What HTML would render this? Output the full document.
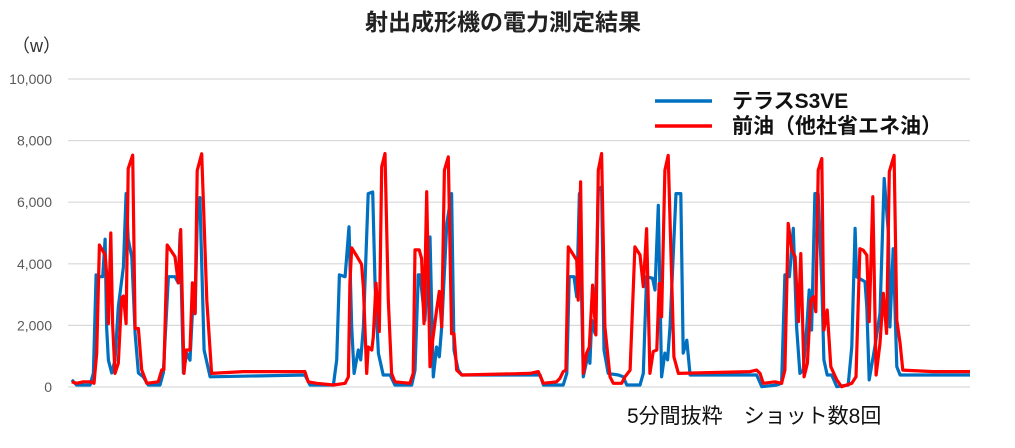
<!DOCTYPE html>
<html><head><meta charset="utf-8">
<style>
body{margin:0;background:#fff;width:1015px;height:448px;overflow:hidden;font-family:"Liberation Sans","Noto Sans CJK JP",sans-serif;}
svg{display:block}
</style></head>
<body>
<svg id="chart" width="1015" height="448" viewBox="0 0 1015 448" xmlns="http://www.w3.org/2000/svg">
<text x="503" y="30" text-anchor="middle" font-size="23" font-weight="bold" fill="#222" font-family="Liberation Sans, Noto Sans CJK JP, sans-serif">射出成形機の電力測定結果</text>
<text x="12" y="52" font-size="18" fill="#333" font-family="Liberation Sans, Noto Sans CJK JP, sans-serif">（w）</text>
<g id="grid"></g>
<g id="yticks"></g>
<g id="series"></g>
<g>
<line x1="655" y1="101" x2="712" y2="101" stroke="#0070C0" stroke-width="3.5"/>
<text x="732" y="108" font-size="21" font-weight="bold" fill="#111" font-family="Liberation Sans, Noto Sans CJK JP, sans-serif">テラスS3VE</text>
<line x1="655" y1="126" x2="712" y2="126" stroke="#FF0000" stroke-width="3.5"/>
<text x="732" y="133" font-size="21" font-weight="bold" fill="#111" font-family="Liberation Sans, Noto Sans CJK JP, sans-serif">前油（他社省エネ油）</text>
</g>
<text x="627" y="423" font-size="21" fill="#111" font-family="Liberation Sans, Noto Sans CJK JP, sans-serif">5分間抜粋　ショット数8回</text>
</svg>
<script>
const yTicks = [0, 2000, 4000, 6000, 8000, 10000];
const yTickLabels = ["0", "2,000", "4,000", "6,000", "8,000", "10,000"];
const blueT = [0.6,2.2,6.7,7.8,8.7,10,10.9,11.7,12.2,12.8,13.9,15,16.1,17.8,18.7,19.4,20.6,21.7,22.8,24.4,26.1,30,31.1,32.8,35,36.1,36.7,37.8,38.9,40,40.9,41.7,42.4,43.3,44.7,46.7,78.3,80,87.8,88.9,89.8,91.7,93,93.9,94.7,96.1,96.9,97.8,99.4,100.9,101.7,102.8,104.4,106.7,108.3,113.9,115,116.1,116.7,118.3,120,121.1,122.2,123.1,123.9,125.6,127.2,128,129.4,130.6,156.7,157.8,164.4,165.6,166.4,168,168.9,169.8,171.1,172.8,173.3,173.9,175,176.1,177.2,178,179.4,182.8,184.4,185.6,190,191.1,192.2,194.2,195,196.1,197.2,198.3,199.2,200,202,203.6,204.4,205.6,206.7,228.9,230.6,235.6,237.2,238.3,239.8,241.1,242.2,243.3,244.4,245.6,246.4,247.2,248.3,249.4,250.6,251.3,252.4,253.9,255.6,259.4,260.6,261.7,262.2,265,265.6,266.4,268.3,270,271.4,272.8,273.3,274.4,275.6,276.7,300];
const blueV = [230,65,65,455,3640,3580,3580,4800,1950,870,455,870,2600,3900,6280,4800,4220,1750,455,330,65,65,455,3580,3580,3380,5000,455,1100,870,2600,2380,5400,6150,1200,330,390,65,65,880,3640,3580,5200,1950,440,1200,880,1950,6280,6330,3290,1095,390,390,65,65,550,3640,3640,2160,4870,330,1300,980,1950,5310,6280,1200,550,390,390,65,65,440,3580,3580,2930,6280,330,1100,770,2170,1740,6390,6500,1200,440,390,330,65,65,440,3580,3530,3150,5900,330,1100,880,1950,6280,6280,1100,1520,390,390,10,65,120,3640,3580,5150,1950,440,550,1950,3150,1850,6280,6280,3360,880,390,390,10,65,1310,5150,3580,3420,2600,230,1310,2390,6770,5000,1950,4490,660,390,390];
const redT = [0.6,2.2,4.4,6.7,8,8.9,9.8,11.7,12.2,12.8,13.6,14.2,15,16.1,17.2,17.8,18.7,19.4,20.9,21.7,22.8,23.9,25.6,29.4,30.6,31.3,32.4,35,36.1,36.9,38,38.7,40,40.8,41.7,42.4,43.9,45.6,47.2,57.8,68.9,78.3,79.4,82.2,87.8,91.7,92.8,93.3,93.9,95.6,97.2,97.8,98.9,99.4,100.6,101.1,102,103.1,103.9,105,106.1,107.2,108.3,113.3,114.4,115,116.4,117.2,118,118.9,120,120.9,122.2,123.1,123.9,124.8,126.1,127.2,128,128.9,130.6,153.3,156.1,157.8,162.2,163.3,164.4,165.3,166.1,167.8,168.9,169.4,170.2,171.1,172.2,173.1,174.2,175.3,176.1,177.2,178.3,180,181.1,183.9,185,186.7,188.3,190,191.1,192.2,193.3,194.4,195.6,196.4,197.2,198.3,199.4,201.3,202.8,226.7,228.9,230,231.1,235,237.2,238.3,239.4,240.6,241.7,242.8,243.6,244.7,245.8,246.9,247.8,248.6,249.4,250.6,251.3,252.4,253.6,255.6,257.2,260.6,262,263.3,264.4,265.6,266.4,267.6,268.7,270,271.1,272.2,273.1,274.7,275.6,276.7,277.6,287.8,300];
const redV = [170,120,170,170,120,1095,4610,4290,3700,2060,5000,2060,440,770,2890,2950,2060,7090,7530,1900,1900,560,120,170,560,560,4610,4230,3380,5110,440,1200,1200,3380,2390,7030,7570,2820,440,500,500,500,170,120,65,120,330,3370,4520,4250,3980,3220,440,1300,1200,1630,3370,1800,7150,7580,2820,440,170,120,440,4450,4450,4170,2060,6340,660,1520,2500,3100,1950,7040,7470,1730,1730,550,390,440,500,120,170,280,500,550,4550,4290,4120,2820,6660,440,1100,1300,3310,1690,7040,7580,1950,330,120,120,330,550,4550,4290,3260,5140,440,1150,1200,3360,2280,7040,7520,980,440,500,550,440,120,170,120,550,5310,4450,4230,2120,4330,330,770,2820,2930,2440,7040,7420,1850,2500,660,230,10,120,330,4490,4440,4280,2120,6180,390,1420,3040,1740,6990,7520,2170,1420,550,500,500];

const NS = "http://www.w3.org/2000/svg";
const X0 = 70, X1 = 970, T0 = 0, T1 = 300;
const Y0 = 387, Y1 = 79, V0 = 0, V1 = 10000;
function xScale(t){ return X0 + (t - T0) / (T1 - T0) * (X1 - X0); }
function yScale(v){ return Y0 - (v - V0) / (V1 - V0) * (Y0 - Y1); }

const grid = document.getElementById('grid');
const yt = document.getElementById('yticks');
yTicks.forEach((v, i) => {
  const l = document.createElementNS(NS, 'line');
  
  
  l.setAttribute('x1', 68); l.setAttribute('x2', 970);
  l.setAttribute('y1', yScale(v)); l.setAttribute('y2', yScale(v));
  l.setAttribute('stroke', '#d9d9d9'); l.setAttribute('stroke-width', '1.2');
  grid.appendChild(l);
  const t = document.createElementNS(NS, 'text');
  
  
  t.setAttribute('x', 52); t.setAttribute('y', yScale(v) + 5);
  t.setAttribute('text-anchor', 'end'); t.setAttribute('font-size', '14');
  t.setAttribute('fill', '#595959');
  t.textContent = yTickLabels[i];
  yt.appendChild(t);
});

const series = document.getElementById('series');
function drawLine(ts, vs, color, name){
  const p = document.createElementNS(NS, 'polyline');
  
  
  p.setAttribute('points', ts.map((t, i) => xScale(t).toFixed(1) + ',' + yScale(vs[i]).toFixed(1)).join(' '));
  p.setAttribute('fill', 'none'); p.setAttribute('stroke', color);
  p.setAttribute('stroke-width', '3.2'); p.setAttribute('stroke-linejoin', 'round');
  series.appendChild(p);
}
drawLine(blueT, blueV, '#0070C0', 'series-terras-s3ve');
drawLine(redT, redV, '#FF0000', 'series-previous-oil');
</script>
</body></html>
